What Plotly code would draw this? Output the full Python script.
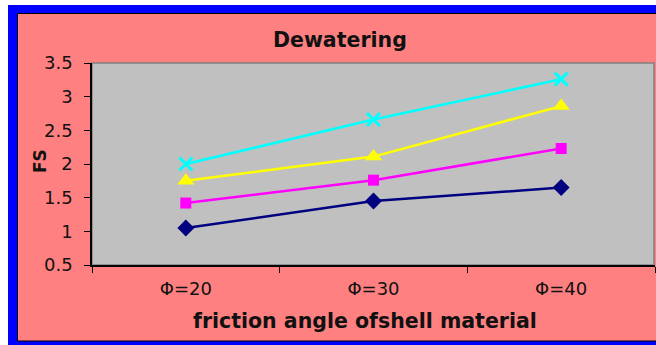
import plotly.graph_objects as go

# Factor of safety for the dewatering case, by friction angle of the shell material
categories = ["Φ=20", "Φ=30", "Φ=40"]
fs_series_1 = [1.05, 1.45, 1.65]
fs_series_2 = [1.42, 1.76, 2.23]
fs_series_3 = [1.75, 2.11, 2.86]
fs_series_4 = [2.00, 2.66, 3.26]
y_ticks = [0.5, 1, 1.5, 2, 2.5, 3, 3.5]

W, H = 656, 345


def px(x):
    return x / W


def py(y):
    return 1 - y / H


fig = go.Figure()

series = [
    (fs_series_1, "#000080", dict(symbol="diamond", size=13, color="#000080")),
    (fs_series_2, "#FF00FF", dict(symbol="square", size=11, color="#FF00FF")),
    (fs_series_3, "#FFFF00", dict(symbol="triangle-up", size=15, color="#FFFF00")),
    (fs_series_4, "#00FFFF", dict(symbol="x-thin", size=13, color="#00FFFF",
                                  line=dict(color="#00FFFF", width=3))),
]
for values, color, marker in series:
    fig.add_trace(go.Scatter(
        x=categories, y=values, mode="lines+markers",
        line=dict(color=color, width=2.5), marker=marker,
        showlegend=False, cliponaxis=False,
    ))

shapes = [
    # blue outer frame
    dict(type="rect", xref="paper", yref="paper", x0=px(8), x1=px(700),
         y0=py(360), y1=py(5), fillcolor="#0000FF", line=dict(width=0), layer="below"),
    # pink chart area
    dict(type="rect", xref="paper", yref="paper", x0=px(17.5), x1=px(700),
         y0=py(341), y1=py(13.5), fillcolor="#FF8080",
         line=dict(color="#000000", width=1), layer="below"),
    # grey plot area
    dict(type="rect", xref="paper", yref="paper", x0=px(92), x1=px(654),
         y0=py(265), y1=py(63), fillcolor="#C0C0C0",
         line=dict(color="#808080", width=1.5), layer="below"),
]

font_family = "DejaVu Sans"
annotations = [
    dict(text="<b>Dewatering</b>", x=px(340), y=py(40), xref="paper", yref="paper",
         showarrow=False, font=dict(family=font_family, size=20.5, color="#111111"),
         xanchor="center", yanchor="middle"),
    dict(text="<b>friction angle ofshell material</b>", x=px(365), y=py(321),
         xref="paper", yref="paper", showarrow=False,
         font=dict(family=font_family, size=20.5, color="#111111"),
         xanchor="center", yanchor="middle"),
    dict(text="<b>FS</b>", x=px(40), y=py(161), xref="paper", yref="paper",
         showarrow=False, textangle=-90,
         font=dict(family=font_family, size=17, color="#111111"),
         xanchor="center", yanchor="middle"),
]

fig.update_layout(
    width=W, height=H,
    margin=dict(l=0, r=0, t=0, b=0),
    paper_bgcolor="#FFFFFF",
    plot_bgcolor="rgba(0,0,0,0)",
    shapes=shapes,
    annotations=annotations,
    xaxis=dict(
        domain=[px(92), px(655)],
        type="category", categoryorder="array", categoryarray=categories,
        range=[-0.5, 2.5], tickson="boundaries",
        ticks="outside", ticklen=6, tickcolor="#000000", tickwidth=1,
        showline=True, linecolor="#000000", linewidth=1.5,
        showgrid=False, zeroline=False, automargin=False,
        tickfont=dict(family=font_family, size=18, color="#111111"),
        ticklabelstandoff=7,
    ),
    yaxis=dict(
        domain=[py(265), py(63)],
        range=[0.5, 3.5], tickvals=y_ticks, ticktext=[f"{v:g}" for v in y_ticks],
        ticks="outside", ticklen=6, tickcolor="#000000", tickwidth=1,
        showline=True, linecolor="#000000", linewidth=1.5,
        showgrid=False, zeroline=False, automargin=False,
        tickfont=dict(family=font_family, size=18, color="#111111"),
        ticklabelstandoff=8,
    ),
)

fig.write_html("out.html")
